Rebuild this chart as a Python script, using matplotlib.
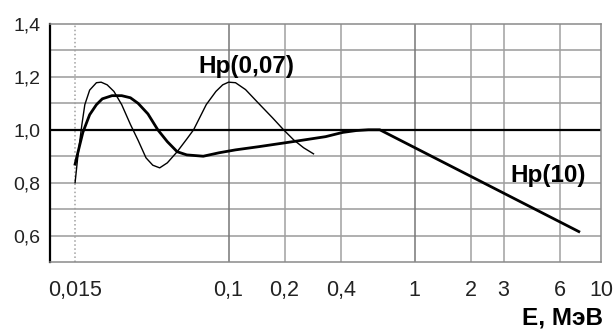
import numpy as np
import matplotlib
matplotlib.use('Agg')
import matplotlib.pyplot as plt

plt.rcParams['font.family'] = ['Liberation Sans', 'DejaVu Sans']

# Hp(0,07) - thin curve
e_007 = [0.015, 0.01555, 0.01632, 0.01692, 0.01796, 0.01953, 0.0207, 0.0223, 0.02425, 0.02669,
         0.02974, 0.0327, 0.03604, 0.0392, 0.0427, 0.04693, 0.0530, 0.05968, 0.06493, 0.0759,
         0.08556, 0.09306, 0.100, 0.109, 0.1234, 0.145, 0.1724, 0.1975, 0.2236, 0.253, 0.286]
h_007 = [0.800, 0.905, 1.020, 1.095, 1.150, 1.178, 1.180, 1.170, 1.145, 1.095,
         1.020, 0.960, 0.894, 0.866, 0.856, 0.875, 0.917, 0.965, 1.000, 1.095,
         1.145, 1.170, 1.180, 1.178, 1.152, 1.100, 1.045, 1.000, 0.962, 0.932, 0.909]

# Hp(10) - thick curve
e_10 = [0.015, 0.01573, 0.01651, 0.01796, 0.01953, 0.021, 0.02368, 0.02669, 0.02974, 0.0327,
        0.03692, 0.0417, 0.04693, 0.0530, 0.05968, 0.07318, 0.08888, 0.109, 0.145, 0.221,
        0.3322, 0.41, 0.4842, 0.5641, 0.649, 7.6]
h_10 = [0.870, 0.930, 0.990, 1.057, 1.095, 1.117, 1.129, 1.129, 1.121, 1.100,
        1.060, 1.000, 0.955, 0.917, 0.905, 0.900, 0.913, 0.924, 0.936, 0.955,
        0.974, 0.990, 0.997, 1.000, 1.000, 0.615]

xticks = [0.015, 0.1, 0.2, 0.4, 1, 2, 3, 6, 10]
xlabels = ['0,015', '0,1', '0,2', '0,4', '1', '2', '3', '6', '10']
yticks = [0.6, 0.8, 1.0, 1.2, 1.4]
ylabels = ['0,6', '0,8', '1,0', '1,2', '1,4']
ygrid = [0.6, 0.7, 0.8, 0.9, 1.1, 1.2, 1.3]

fig = plt.figure(figsize=(6.16, 3.3), dpi=100)
ax = fig.add_axes([50/616, 68/330, 551/616, 238/330])
ax.set_xscale('log')
ax.set_xlim(0.011, 10)
ax.set_ylim(0.5, 1.4)

# grid
for y in ygrid:
    ax.axhline(y, color='#9a9a9a', lw=1.1, zorder=1)
for x in xticks[:-1]:
    c = '#777777' if x in (0.1, 1) else '#a0a0a0'
    ls = ':' if x == 0.015 else '-'
    ax.axvline(x, color=c, lw=1.1, ls=ls, zorder=1)
ax.axhline(1.0, color='black', lw=1.6, zorder=2)

ax.plot(e_007, h_007, color='black', lw=1.0, zorder=3, solid_joinstyle='round')
ax.plot(e_10, h_10, color='black', lw=2.0, zorder=3, solid_joinstyle='round')

ax.set_xticks(xticks)
ax.set_xticklabels(xlabels)
ax.xaxis.set_minor_locator(matplotlib.ticker.NullLocator())
ax.set_yticks(yticks)
ax.set_yticklabels(ylabels)
ax.tick_params(axis='x', length=0, pad=13, labelsize=15.5, labelcolor='#222222')
ax.tick_params(axis='y', length=0, pad=7, labelsize=14, labelcolor='#222222')

for s in ['top', 'right', 'bottom']:
    ax.spines[s].set_color('#8a8a8a')
    ax.spines[s].set_linewidth(1.1)
ax.spines['left'].set_color('black')
ax.spines['left'].set_linewidth(1.6)

ax.text(0.125, 1.216, 'Hp(0,07)', ha='center', va='baseline', fontsize=17.5, fontweight='bold')
ax.text(5.2, 0.803, 'Hp(10)', ha='center', va='baseline', fontsize=17.5, fontweight='bold')
fig.text(603/616, 6/330, 'E, МэВ', ha='right', va='baseline', fontsize=17.5, fontweight='bold')

fig.savefig('out.png', dpi=100)
